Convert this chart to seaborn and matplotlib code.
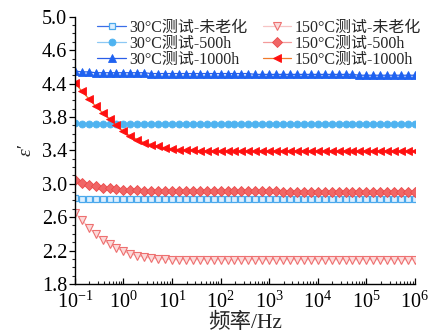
import numpy as np
import pandas as pd
import matplotlib
matplotlib.use("Agg")
import matplotlib.pyplot as plt
import seaborn as sns
from matplotlib.ticker import LogLocator, NullFormatter, MultipleLocator, FixedLocator

sns.set_style("ticks")
FONT = ['Liberation Serif', 'Noto Sans CJK SC', 'DejaVu Sans']
plt.rcParams['font.family'] = FONT
plt.rcParams['mathtext.default'] = 'regular'

# frequency sweep grid (Hz), 7 points per decade
freq = np.logspace(-1, 6, 50)

labels = ['30°C测试-未老化', '30°C测试-500h', '30°C测试-1000h',
          '150°C测试-未老化', '150°C测试-500h', '150°C测试-1000h']

eps_30_new = [2.83, 2.82, 2.82, 2.82, 2.82, 2.82, 2.82, 2.82, 2.82, 2.82,
              2.82, 2.82, 2.82, 2.82, 2.82, 2.82, 2.82, 2.82, 2.82, 2.82,
              2.82, 2.82, 2.82, 2.82, 2.82, 2.82, 2.82, 2.82, 2.82, 2.82,
              2.82, 2.82, 2.82, 2.82, 2.82, 2.82, 2.82, 2.82, 2.82, 2.82,
              2.82, 2.82, 2.82, 2.82, 2.82, 2.82, 2.82, 2.82, 2.82, 2.82]
eps_30_500 = [3.73, 3.72, 3.72, 3.72, 3.72, 3.72, 3.72, 3.72, 3.72, 3.72,
              3.72, 3.72, 3.72, 3.72, 3.72, 3.72, 3.72, 3.72, 3.72, 3.72,
              3.72, 3.72, 3.72, 3.72, 3.72, 3.72, 3.72, 3.72, 3.72, 3.72,
              3.72, 3.72, 3.72, 3.72, 3.72, 3.72, 3.72, 3.72, 3.72, 3.72,
              3.72, 3.72, 3.72, 3.72, 3.72, 3.72, 3.72, 3.72, 3.72, 3.72]
eps_30_1000 = [4.35, 4.34, 4.34, 4.33, 4.33, 4.33, 4.33, 4.33, 4.33, 4.33,
               4.33, 4.32, 4.32, 4.32, 4.32, 4.32, 4.32, 4.32, 4.32, 4.32,
               4.32, 4.32, 4.32, 4.32, 4.32, 4.32, 4.31, 4.31, 4.31, 4.31,
               4.31, 4.31, 4.31, 4.31, 4.31, 4.31, 4.31, 4.31, 4.31, 4.31,
               4.31, 4.30, 4.30, 4.30, 4.30, 4.30, 4.30, 4.30, 4.30, 4.30]
eps_150_new = [2.65, 2.57, 2.47, 2.40, 2.33, 2.28, 2.23, 2.19, 2.16, 2.14,
               2.12, 2.11, 2.10, 2.10, 2.09, 2.09, 2.09, 2.09, 2.09, 2.09,
               2.09, 2.09, 2.09, 2.09, 2.09, 2.09, 2.09, 2.09, 2.09, 2.09,
               2.09, 2.09, 2.09, 2.09, 2.09, 2.09, 2.09, 2.09, 2.09, 2.09,
               2.09, 2.09, 2.09, 2.09, 2.09, 2.09, 2.09, 2.09, 2.09, 2.09]
eps_150_500 = [3.04, 3.01, 2.99, 2.97, 2.955, 2.945, 2.94, 2.93, 2.925, 2.92,
               2.915, 2.91, 2.91, 2.91, 2.91, 2.91, 2.91, 2.91, 2.91, 2.91,
               2.91, 2.91, 2.91, 2.91, 2.91, 2.91, 2.91, 2.91, 2.91, 2.91,
               2.905, 2.905, 2.905, 2.905, 2.905, 2.905, 2.905, 2.905, 2.905, 2.905,
               2.90, 2.90, 2.90, 2.90, 2.90, 2.90, 2.90, 2.90, 2.90, 2.90]
eps_150_1000 = [4.21, 4.11, 4.02, 3.93, 3.85, 3.78, 3.70, 3.63, 3.57, 3.53,
                3.49, 3.47, 3.45, 3.43, 3.42, 3.41, 3.40, 3.40, 3.395, 3.39,
                3.39, 3.39, 3.39, 3.39, 3.39, 3.39, 3.39, 3.39, 3.39, 3.39,
                3.39, 3.39, 3.39, 3.39, 3.39, 3.39, 3.39, 3.39, 3.39, 3.39,
                3.39, 3.39, 3.39, 3.39, 3.39, 3.39, 3.39, 3.39, 3.39, 3.39]

ytick_vals = [1.8, 2.2, 2.6, 3.0, 3.4, 3.8, 4.2, 4.6, 5.0]
ytick_labels = ['1.8', '2.2', '2.6', '3.0', '3.4', '3.8', '4.4', '4.6', '5.0']

series = [eps_30_new, eps_30_500, eps_30_1000, eps_150_new, eps_150_500, eps_150_1000]
df = pd.concat([pd.DataFrame({'freq': freq, 'eps': s, 'label': l})
                for s, l in zip(series, labels)], ignore_index=True)

styles = {
    labels[0]: dict(color='#3a6ee8', marker='s', ms=4.3, mfc='#dcefff', mec='#4aa8ec', mew=0.9, lw=0.9),
    labels[1]: dict(color='#8cc8f4', marker='o', ms=5.0, mfc='#4fb3f0', mec='#4fb3f0', mew=0.6, lw=0.9),
    labels[2]: dict(color='#2a5ee8', marker='^', ms=5.2, mfc='#1f62f0', mec='#1f62f0', mew=0.6, lw=0.9),
    labels[3]: dict(color='#f7c4c4', marker='v', ms=5.5, mfc='#fbdada', mec='#ee7070', mew=0.8, lw=0.9),
    labels[4]: dict(color='#f39a9a', marker='D', ms=4.6, mfc='#f06666', mec='#ec4a4a', mew=0.6, lw=0.9),
    labels[5]: dict(color='#f07a2a', marker='<', ms=5.6, mfc='#ff1010', mec='#ff1010', mew=0.6, lw=0.9),
}

fig = plt.figure(figsize=(4.3, 3.36), dpi=100)
ax = fig.add_axes([0.174, 0.155, 0.791, 0.795])

for l in labels:
    st = styles[l]
    sns.lineplot(data=df[df['label'] == l], x='freq', y='eps', ax=ax,
                 color=st['color'], marker=st['marker'], markersize=st['ms'],
                 markerfacecolor=st['mfc'], markeredgecolor=st['mec'],
                 markeredgewidth=st['mew'], linewidth=st['lw'], label=l,
                 estimator=None, sort=False)

ax.set_xscale('log')
ax.set_xlim(1e-1, 1e6)
ax.set_ylim(1.8, 5.0)
ax.xaxis.set_major_locator(LogLocator(base=10, numticks=20))
ax.xaxis.set_minor_locator(LogLocator(base=10, subs=np.arange(2, 10), numticks=20))
ax.xaxis.set_minor_formatter(NullFormatter())
ax.yaxis.set_major_locator(FixedLocator(ytick_vals))
ax.set_yticklabels(ytick_labels)
ax.yaxis.set_minor_locator(MultipleLocator(0.1))

for s in ['top', 'right']:
    ax.spines[s].set_visible(False)
for s in ['left', 'bottom']:
    ax.spines[s].set_linewidth(1.0)
    ax.spines[s].set_color('black')

ax.tick_params(axis='y', which='major', direction='out', length=4.5, width=0.9, labelsize=14.5, pad=1, colors='black')
ax.tick_params(axis='y', which='minor', direction='out', length=2.5, width=0.8)
ax.tick_params(axis='x', which='major', direction='in', length=4.5, width=0.9, labelsize=14.5, pad=5.5, colors='black')
ax.tick_params(axis='x', which='minor', direction='in', length=2.5, width=0.8)

ax.set_xlabel('频率/Hz', fontsize=15.5, family=FONT, labelpad=0)
ax.set_ylabel('ε′', fontsize=14, style='italic', family=FONT, labelpad=5)

ax.legend(loc='upper left', bbox_to_anchor=(0.226, 0.942), bbox_transform=fig.transFigure,
          ncol=2, frameon=False, handlelength=1.8, handletextpad=0.2,
          columnspacing=0.95, labelspacing=0.0, borderaxespad=0, borderpad=0,
          prop={'family': FONT, 'size': 11.5})

fig.savefig('out.png', dpi=100)
